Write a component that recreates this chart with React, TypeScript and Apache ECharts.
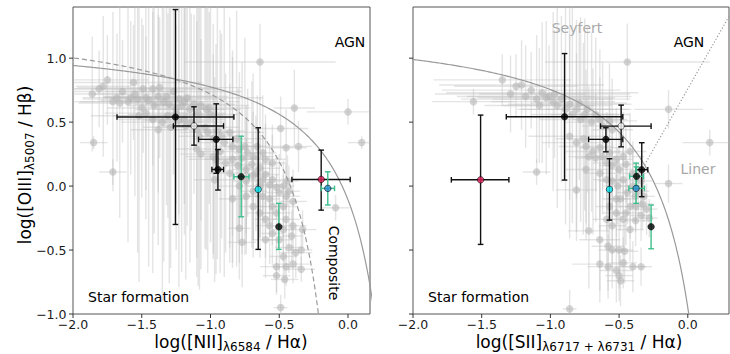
import React, { useEffect, useRef } from "react";
import * as echarts from "echarts";

// ---------- data ----------
const X_TICKS = [-2, -1.5, -1, -0.5, 0];
const Y_TICKS = [-1, -0.5, 0, 0.5, 1];
const NII_X_RANGE = [-2, 0.16];
const SII_X_RANGE = [-2, 0.3];
const Y_RANGE = [-1, 1.4];

// demarcation lines: y = a / (x - b) + c
const KAUFFMANN03 = [0.61, 0.05, 1.3];
const KEWLEY01_NII = [0.61, 0.47, 1.19];
const KEWLEY01_SII = [0.72, 0.32, 1.3];
// Seyfert / LINER line: y = m x + q
const SEYFERT_LINER = [1.89, 0.76];

// background sample [x, y, xerr, yerr]
const niiSample = [
  [-1.86, 0.72, 0.25, 0.45], [-1.81, 0.76, 0.35, 0.3], [-1.78, 0.78, 0.2, 0.55], [-1.75, 0.83, 0.3, 0.35],
  [-1.71, 0.66, 0.4, 0.7], [-1.68, 0.69, 0.25, 0.5], [-1.66, 0.65, 0.3, 0.9], [-1.64, 0.74, 0.45, 0.4],
  [-1.6, 0.66, 0.35, 1.1], [-1.58, 0.69, 0.2, 0.6], [-1.56, 0.81, 0.5, 0.45], [-1.55, 0.72, 0.3, 0.8],
  [-1.53, 0.68, 0.4, 1.2], [-1.5, 0.61, 0.25, 0.7], [-1.49, 0.76, 0.55, 0.5], [-1.47, 0.69, 0.3, 0.95],
  [-1.45, 0.67, 0.35, 1.3], [-1.42, 0.76, 0.45, 0.6], [-1.41, 0.63, 0.2, 1.0], [-1.38, 0.7, 0.4, 0.75],
  [-1.37, 0.77, 0.6, 0.55], [-1.34, 0.66, 0.3, 1.25], [-1.32, 0.7, 0.45, 0.85], [-1.3, 0.64, 0.25, 1.4],
  [-1.27, 0.74, 0.5, 0.65], [-1.25, 0.6, 0.3, 1.1], [-1.23, 0.68, 0.35, 0.9], [-1.21, 0.63, 0.2, 1.3],
  [-1.19, 0.66, 0.4, 0.8], [-1.17, 0.69, 0.55, 1.0], [-1.15, 0.6, 0.25, 1.2], [-1.12, 0.64, 0.3, 0.7],
  [-1.09, 0.57, 0.2, 1.35], [-1.07, 0.63, 0.35, 0.9], [-1.03, 0.6, 0.25, 1.1], [-1.01, 0.61, 0.3, 0.75],
  [-1.0, 0.56, 0.2, 1.0],
  [-1.52, 0.55, 0.35, 1.3], [-1.47, 0.57, 0.3, 0.6], [-1.42, 0.52, 0.25, 1.2], [-1.38, 0.44, 0.2, 0.9],
  [-1.35, 0.5, 0.3, 1.4], [-1.31, 0.55, 0.4, 0.8], [-1.29, 0.46, 0.2, 1.1], [-1.25, 0.56, 0.35, 0.7],
  [-1.23, 0.51, 0.25, 1.3], [-1.19, 0.52, 0.3, 0.9], [-1.18, 0.47, 0.2, 1.2], [-1.14, 0.5, 0.25, 0.85],
  [-1.1, 0.44, 0.2, 1.0], [-1.08, 0.39, 0.15, 1.2], [-1.04, 0.46, 0.25, 0.95], [-1.02, 0.42, 0.2, 1.1],
  [-0.98, 0.37, 0.15, 0.9], [-0.95, 0.43, 0.2, 1.0], [-0.92, 0.39, 0.15, 0.8], [-0.9, 0.34, 0.2, 1.05],
  [-0.86, 0.42, 0.25, 0.9], [-0.84, 0.31, 0.15, 0.7], [-0.81, 0.37, 0.2, 1.0], [-0.79, 0.29, 0.1, 0.6],
  [-0.75, 0.31, 0.15, 0.85], [-0.73, 0.26, 0.1, 0.5], [-0.69, 0.23, 0.15, 0.65], [-0.66, 0.31, 0.2, 0.4],
  [-0.62, 0.26, 0.1, 0.45], [-0.6, 0.21, 0.15, 0.35], [-0.55, 0.18, 0.1, 0.3], [-0.49, 0.45, 0.2, 0.25],
  [-0.45, 0.3, 0.15, 0.3], [-0.36, 0.31, 0.1, 0.2], [-0.39, 0.61, 0.15, 0.3],
  [-0.98, 0.23, 0.2, 0.8], [-0.93, 0.27, 0.15, 0.95], [-0.89, 0.18, 0.1, 0.7], [-0.84, 0.21, 0.2, 0.85],
  [-0.8, 0.16, 0.1, 0.6], [-0.77, 0.22, 0.15, 0.75], [-0.74, 0.13, 0.1, 0.5], [-0.7, 0.17, 0.15, 0.65],
  [-0.67, 0.1, 0.1, 0.45], [-0.64, 0.14, 0.15, 0.55], [-0.62, 0.05, 0.1, 0.35], [-0.6, 0.09, 0.1, 0.4],
  [-0.57, 0.01, 0.1, 0.3], [-0.55, 0.05, 0.1, 0.35], [-0.52, -0.01, 0.08, 0.25], [-0.5, -0.05, 0.1, 0.3],
  [-0.47, 0.0, 0.08, 0.2], [-0.45, -0.08, 0.1, 0.25], [-0.43, -0.04, 0.08, 0.2], [-0.4, -0.12, 0.1, 0.25],
  [-0.79, 0.0, 0.15, 0.6], [-0.74, 0.04, 0.1, 0.5], [-0.69, -0.04, 0.1, 0.45], [-0.62, -0.08, 0.1, 0.35],
  [-0.57, -0.1, 0.08, 0.3], [-0.47, -0.16, 0.1, 0.25], [-0.44, 0.04, 0.08, 0.2], [-0.96, 0.21, 0.2, 0.9],
  [-0.86, 0.1, 0.15, 0.7], [-0.69, 0.08, 0.1, 0.5], [-0.64, 0.0, 0.1, 0.4], [-0.74, -0.08, 0.12, 0.45],
  [-0.55, -0.16, 0.1, 0.3],
  [-0.84, -0.1, 0.1, 0.5], [-0.79, -0.33, 0.08, 0.4], [-0.77, -0.44, 0.1, 0.35], [-0.69, -0.16, 0.1, 0.4],
  [-0.64, -0.21, 0.1, 0.35], [-0.6, -0.26, 0.08, 0.3], [-0.57, -0.31, 0.1, 0.3], [-0.55, -0.37, 0.08, 0.25],
  [-0.52, -0.21, 0.1, 0.3], [-0.5, -0.42, 0.1, 0.25], [-0.47, -0.34, 0.08, 0.25], [-0.45, -0.26, 0.1, 0.2],
  [-0.43, -0.48, 0.1, 0.2], [-0.41, -0.39, 0.08, 0.2], [-0.4, -0.31, 0.1, 0.2], [-0.38, -0.52, 0.12, 0.2],
  [-0.47, -0.55, 0.1, 0.2], [-0.52, -0.63, 0.12, 0.2], [-0.45, -0.63, 0.1, 0.15], [-0.4, -0.61, 0.12, 0.15],
  [-0.34, -0.5, 0.08, 0.15], [-0.33, -0.34, 0.1, 0.15], [-0.52, -0.7, 0.1, 0.15], [-0.46, -0.73, 0.1, 0.15],
  [-0.34, -0.65, 0.1, 0.1], [-0.49, -0.95, 0.05, 0.1], [-0.6, -0.42, 0.1, 0.3],
  [-1.85, 0.34, 0.1, 0.05], [-1.71, 0.11, 0.1, 0.1], [-0.64, 0.97, 0.55, 0.3], [0.0, 0.58, 0.3, 0.1],
  [0.1, 0.34, 0.1, 0.05], [-0.09, -0.17, 0.1, 0.1], [-1.1, 0.29, 0.15, 1.0], [-1.07, 0.25, 0.15, 0.9],
  [-0.97, 0.05, 0.15, 0.8],
];

const siiSample = [
  [-1.56, 0.66, 0.3, 0.1], [-1.35, 0.83, 0.5, 0.2], [-1.29, 0.72, 0.55, 0.3], [-1.25, 0.78, 0.45, 0.25],
  [-1.21, 0.79, 0.6, 0.35], [-1.18, 0.7, 0.5, 0.4], [-1.14, 0.75, 0.65, 0.3], [-1.1, 0.68, 0.55, 0.5],
  [-1.08, 0.63, 0.4, 0.45], [-1.06, 0.73, 0.7, 0.55], [-1.03, 0.69, 0.5, 0.6], [-1.01, 0.7, 0.6, 0.4],
  [-0.98, 0.66, 0.45, 0.7], [-0.97, 0.72, 0.55, 0.5], [-0.95, 0.63, 0.4, 0.8], [-0.92, 0.68, 0.5, 0.65],
  [-0.89, 0.6, 0.35, 0.9], [-0.86, 0.64, 0.45, 0.75], [-0.84, 0.56, 0.3, 0.85], [-0.81, 0.6, 0.4, 0.7],
  [-0.79, 0.65, 0.35, 0.6], [-0.78, 0.52, 0.3, 0.8], [-0.75, 0.56, 0.25, 0.75], [-0.73, 0.6, 0.3, 0.65],
  [-0.7, 0.5, 0.2, 0.7], [-0.67, 0.56, 0.25, 0.6], [-0.64, 0.52, 0.2, 0.55], [-0.62, 0.47, 0.15, 0.5],
  [-0.57, 0.51, 0.2, 0.45], [-0.55, 0.44, 0.15, 0.4],
  [-0.86, 0.39, 0.3, 0.8], [-0.81, 0.34, 0.25, 0.7], [-0.76, 0.37, 0.2, 0.75], [-0.74, 0.31, 0.2, 0.6],
  [-0.72, 0.23, 0.15, 0.55], [-0.69, 0.27, 0.2, 0.65], [-0.67, 0.22, 0.15, 0.5], [-0.64, 0.3, 0.15, 0.55],
  [-0.62, 0.23, 0.15, 0.45], [-0.59, 0.18, 0.1, 0.4], [-0.57, 0.26, 0.15, 0.45], [-0.55, 0.16, 0.1, 0.35],
  [-0.52, 0.21, 0.12, 0.4], [-0.5, 0.13, 0.1, 0.3], [-0.47, 0.23, 0.15, 0.35], [-0.45, 0.17, 0.1, 0.3],
  [-0.42, 0.27, 0.12, 0.3], [-0.4, 0.1, 0.1, 0.25], [-0.74, 0.13, 0.15, 0.55], [-0.64, 0.1, 0.12, 0.45],
  [-0.59, 0.05, 0.1, 0.4], [-0.55, 0.04, 0.1, 0.35], [-0.51, 0.0, 0.1, 0.3], [-0.47, 0.05, 0.1, 0.3],
  [-0.44, -0.05, 0.08, 0.25], [-0.4, 0.0, 0.08, 0.25], [-0.36, -0.04, 0.08, 0.2], [-0.34, 0.04, 0.08, 0.2],
  [-0.32, -0.08, 0.08, 0.2], [-0.33, -0.14, 0.08, 0.2], [-0.3, -0.18, 0.08, 0.2], [-0.38, -0.16, 0.08, 0.2],
  [-0.42, -0.16, 0.08, 0.25], [-0.45, -0.21, 0.1, 0.25], [-0.52, -0.1, 0.1, 0.3], [-0.57, -0.16, 0.1, 0.35],
  [-0.59, -0.26, 0.1, 0.4], [-0.55, -0.31, 0.1, 0.35], [-0.47, -0.26, 0.1, 0.25], [-0.42, -0.34, 0.1, 0.25],
  [-0.38, -0.27, 0.08, 0.2], [-0.34, -0.23, 0.08, 0.2], [-0.28, -0.25, 0.06, 0.15], [-0.49, -0.1, 0.1, 0.25],
  [-0.52, -0.21, 0.1, 0.3], [-0.38, -0.08, 0.08, 0.2],
  [-1.1, 0.11, 0.1, 0.1], [-0.81, -0.03, 0.15, 0.4], [-0.72, -0.35, 0.15, 0.45], [-0.64, -0.42, 0.15, 0.4],
  [-0.58, -0.47, 0.12, 0.35], [-0.55, -0.5, 0.1, 0.3], [-0.5, -0.5, 0.1, 0.3], [-0.46, -0.51, 0.1, 0.25],
  [-0.64, -0.61, 0.2, 0.3], [-0.58, -0.63, 0.15, 0.25], [-0.52, -0.66, 0.12, 0.25], [-0.47, -0.6, 0.1, 0.2],
  [-0.4, -0.63, 0.1, 0.2], [-0.34, -0.63, 0.08, 0.15], [-0.5, -0.7, 0.1, 0.2], [-0.49, -0.74, 0.1, 0.2],
  [-0.86, -0.96, 0.05, 0.15], [-0.44, 0.97, 0.6, 0.3], [-0.14, 0.6, 0.25, 0.15], [0.16, 0.34, 0.2, 0.1],
  [-0.14, 0.02, 0.1, 0.15],
];

// highlighted objects [x, y, xlo, xhi, ylo, yhi]
const niiObjects = [
  [-1.255, 0.54, -1.68, -0.83, -0.3, 1.38],
  [-1.12, 0.47, -1.27, -0.905, 0.32, 0.62],
  [-0.958, 0.365, -1.087, -0.837, 0.1, 0.643],
  [-0.946, 0.13, -0.99, -0.905, -0.031, 0.286],
  [-0.777, 0.073, -0.83, -0.72, -0.24, 0.39],
  [-0.653, -0.026, -0.653, -0.653, -0.495, 0.456],
  [-0.503, -0.318, -0.503, -0.503, -0.495, -0.135],
  [-0.195, 0.052, -0.408, 0.016, -0.188, 0.281],
  [-0.147, -0.018, -0.195, -0.098, -0.148, 0.112],
];
const siiObjects = [
  [-0.897, 0.542, -1.321, -0.473, 0.047, 1.036],
  [-0.485, 0.469, -0.635, -0.267, 0.307, 0.633],
  [-0.596, 0.365, -0.722, -0.473, 0.268, 0.456],
  [-0.335, 0.128, -0.376, -0.291, -0.083, 0.339],
  [-0.373, 0.076, -0.424, -0.322, 0.0, 0.15],
  [-0.57, -0.026, -0.57, -0.57, -0.266, 0.214],
  [-0.267, -0.318, -0.267, -0.267, -0.49, -0.148],
  [-1.508, 0.049, -1.721, -1.302, -0.456, 0.555],
  [-0.376, -0.018, -0.429, -0.315, -0.135, 0.18],
];
const niiObjectFill = ["black", "white", "black", "black", "black", "cyan", "black", "red", "blue"];
const niiObjectErr = ["black", "black", "black", "black", "green", "black", "green", "black", "green"];
const siiObjectFill = ["black", "white", "black", "black", "black", "cyan", "black", "red", "blue"];
const siiObjectErr = ["black", "black", "black", "black", "green", "black", "green", "black", "green"];

// ---------- styles ----------
const FILL: Record<string, string> = {
  black: "#000000",
  white: "#ffffff",
  cyan: "#00e5f2",
  red: "#e0205a",
  blue: "#2a8bd0",
};
const ERR: Record<string, string> = { black: "#111111", green: "#3dbe8c" };
const FONT = "DejaVu Sans";
const TICK_LEN = 4;

function curve(coef: number[], xmin: number) {
  const [a, b, c] = coef;
  const pts: number[][] = [];
  for (let x = xmin; x < b; x += 0.01) {
    const y = a / (x - b) + c;
    if (y < -1.1) break;
    pts.push([x, y]);
  }
  pts.push([b + a / (-1.1 - c), -1.1]);
  return pts;
}

function linerLine(xmax: number) {
  const [m, q] = SEYFERT_LINER;
  const [a, b, c] = KEWLEY01_SII;
  const A = m;
  const B = q - c - m * b;
  const C = -(q - c) * b - a;
  const x0 = (-B - Math.sqrt(B * B - 4 * A * C)) / (2 * A);
  return [
    [x0, m * x0 + q],
    [xmax, m * xmax + q],
  ];
}

const errRender =
  (colors: string[] | string, lw: number, cap: number) => (params: any, api: any) => {
    const cs = params.coordSys;
    const x0 = cs.x,
      x1 = cs.x + cs.width,
      y0 = cs.y,
      y1 = cs.y + cs.height;
    const clx = (v: number) => Math.max(x0, Math.min(x1, v));
    const cly = (v: number) => Math.max(y0, Math.min(y1, v));
    const c = api.coord([api.value(0), api.value(1)]);
    const l = api.coord([api.value(2), api.value(1)]);
    const r = api.coord([api.value(3), api.value(1)]);
    const b = api.coord([api.value(0), api.value(4)]);
    const t = api.coord([api.value(0), api.value(5)]);
    const color = Array.isArray(colors) ? colors[params.dataIndex] : colors;
    const style = { stroke: color, lineWidth: lw, fill: null };
    const ch: any[] = [];
    if (r[0] - l[0] > 0.5) {
      ch.push({ type: "line", shape: { x1: clx(l[0]), y1: c[1], x2: clx(r[0]), y2: c[1] }, style });
      if (cap > 0) {
        if (l[0] >= x0) ch.push({ type: "line", shape: { x1: l[0], y1: c[1] - cap, x2: l[0], y2: c[1] + cap }, style });
        if (r[0] <= x1) ch.push({ type: "line", shape: { x1: r[0], y1: c[1] - cap, x2: r[0], y2: c[1] + cap }, style });
      }
    }
    if (b[1] - t[1] > 0.5) {
      ch.push({ type: "line", shape: { x1: c[0], y1: cly(t[1]), x2: c[0], y2: cly(b[1]) }, style });
      if (cap > 0) {
        if (t[1] >= y0) ch.push({ type: "line", shape: { x1: c[0] - cap, y1: t[1], x2: c[0] + cap, y2: t[1] }, style });
        if (b[1] <= y1) ch.push({ type: "line", shape: { x1: c[0] - cap, y1: b[1], x2: c[0] + cap, y2: b[1] }, style });
      }
    }
    return { type: "group", children: ch };
  };

const fmt = (v: number) => (v < 0 ? "\u2212" : "") + Math.abs(v).toFixed(1);

// outward tick marks + tick labels drawn through the axis scales
const tickRender = (dir: "x" | "y", withLabel: boolean) => (params: any, api: any) => {
  const v = dir === "x" ? api.value(0) : api.value(1);
  const p = api.coord([api.value(0), api.value(1)]);
  const ch: any[] = [];
  const tickStyle = { stroke: "#333", lineWidth: 1 };
  const labelStyle = { fill: "#1a1a1a", font: `12.5px ${FONT}` };
  if (dir === "x") {
    ch.push({ type: "line", shape: { x1: p[0], y1: p[1], x2: p[0], y2: p[1] + TICK_LEN }, style: tickStyle });
    if (withLabel)
      ch.push({
        type: "text",
        x: p[0],
        y: p[1] + 10.5,
        style: { ...labelStyle, text: fmt(v), textAlign: "center", align: "center", textVerticalAlign: "middle", verticalAlign: "middle" },
      });
  } else {
    ch.push({ type: "line", shape: { x1: p[0] - TICK_LEN, y1: p[1], x2: p[0], y2: p[1] }, style: tickStyle });
    if (withLabel)
      ch.push({
        type: "text",
        x: p[0] - 6.5,
        y: p[1],
        style: { ...labelStyle, text: fmt(v), textAlign: "right", align: "right", textVerticalAlign: "middle", verticalAlign: "middle" },
      });
  }
  return { type: "group", children: ch };
};

function xAxisCfg(gridIndex: number, range: number[]) {
  return { type: "value", gridIndex, show: false, min: range[0], max: range[1] };
}
function yAxisCfg(gridIndex: number) {
  return { type: "value", gridIndex, show: false, min: Y_RANGE[0], max: Y_RANGE[1] };
}

function panelSeries(idx: number, xr: number[], yLabels: boolean, sample: number[][], objs: number[][], fill: string[], err: string[], curves: any[]) {
  const greyErr = sample.map((p) => [p[0], p[1], p[0] - p[2], p[0] + p[2], p[1] - p[3], p[1] + p[3]]);
  const list: any[] = [
    {
      type: "custom",
      xAxisIndex: idx,
      yAxisIndex: idx,
      renderItem: errRender("rgba(190,190,190,0.42)", 1.4, 0),
      data: greyErr,
      encode: { x: 0, y: 1 },
      z: 1,
      silent: true,
    },
    {
      type: "scatter",
      xAxisIndex: idx,
      yAxisIndex: idx,
      data: sample.map((p) => [p[0], p[1]]),
      symbolSize: 7.5,
      itemStyle: { color: "rgba(180,180,180,0.72)" },
      z: 2,
      silent: true,
    },
    ...curves.map((cv) => ({
      type: "line",
      xAxisIndex: idx,
      yAxisIndex: idx,
      data: cv.data,
      showSymbol: false,
      lineStyle: { color: "#9a9a9a", width: 1.2, type: cv.dash },
      z: 3,
      silent: true,
    })),
    {
      type: "custom",
      xAxisIndex: idx,
      yAxisIndex: idx,
      renderItem: errRender(err.map((k) => ERR[k]), 1.4, 2.8),
      data: objs,
      encode: { x: 0, y: 1 },
      z: 4,
      silent: true,
    },
    {
      type: "scatter",
      xAxisIndex: idx,
      yAxisIndex: idx,
      data: objs.map((p, i) => ({
        value: [p[0], p[1]],
        itemStyle: { color: FILL[fill[i]], borderColor: "#000", borderWidth: 0.7 },
      })),
      symbolSize: 6.5,
      z: 5,
      silent: true,
    },
    {
      type: "custom",
      xAxisIndex: idx,
      yAxisIndex: idx,
      renderItem: tickRender("x", true),
      data: X_TICKS.map((v) => [v, Y_RANGE[0]]),
      encode: { x: 0, y: 1 },
      clip: false,
      z: 6,
      silent: true,
    },
    {
      type: "custom",
      xAxisIndex: idx,
      yAxisIndex: idx,
      renderItem: tickRender("y", yLabels),
      data: Y_TICKS.map((v) => [xr[0], v]),
      encode: { x: 0, y: 1 },
      clip: false,
      z: 6,
      silent: true,
    },
  ];
  return list;
}

function richLabel(main1: string, sub: string, main2: string) {
  return {
    text: `{m|${main1}}{s|${sub}}{m|${main2}}`,
    rich: {
      m: { fontSize: 17, fontFamily: FONT, lineHeight: 22, fill: "#000", color: "#000" },
      s: { fontSize: 12, fontFamily: FONT, lineHeight: 10, verticalAlign: "bottom", fill: "#000", color: "#000" },
    },
  };
}

function txt(x: number, y: number, text: string, color: string, align: string, rotation = 0) {
  return {
    type: "text",
    x,
    y,
    rotation,
    silent: true,
    style: {
      text,
      fill: color,
      font: `14px ${FONT}`,
      textAlign: align,
      align,
      textVerticalAlign: "middle",
      verticalAlign: "middle",
    },
  };
}

export default function App() {
  const ref = useRef<HTMLDivElement>(null);
  useEffect(() => {
    if (!ref.current) return;
    const chart = echarts.init(ref.current, undefined, { renderer: "svg" });
    const grids = [
      { left: 73, top: 7, width: 297, height: 307 },
      { left: 413, top: 7, width: 316, height: 307 },
    ].map((g) => ({ ...g, show: true, borderColor: "#555", borderWidth: 1, backgroundColor: "transparent" }));

    const option: any = {
      animation: false,
      backgroundColor: "#fff",
      grid: grids,
      xAxis: [xAxisCfg(0, NII_X_RANGE), xAxisCfg(1, SII_X_RANGE)],
      yAxis: [yAxisCfg(0), yAxisCfg(1)],
      series: [
        ...panelSeries(0, NII_X_RANGE, true, niiSample, niiObjects, niiObjectFill, niiObjectErr, [
          { data: curve(KEWLEY01_NII, -2.05), dash: "solid" },
          { data: curve(KAUFFMANN03, -2.05), dash: [5, 3] },
        ]),
        ...panelSeries(1, SII_X_RANGE, false, siiSample, siiObjects, siiObjectFill, siiObjectErr, [
          { data: curve(KEWLEY01_SII, -2.05), dash: "solid" },
          { data: linerLine(SII_X_RANGE[1]), dash: [1.2, 2] },
        ]),
      ],
      graphic: [
        txt(350, 42, "AGN", "#000", "center"),
        txt(88, 297, "Star formation", "#000", "left"),
        txt(334, 263, "Composite", "#000", "center", -Math.PI / 2),
        txt(577, 28, "Seyfert", "#a8a8a8", "center"),
        txt(689, 42, "AGN", "#000", "center"),
        txt(698, 169, "Liner", "#a8a8a8", "center"),
        txt(428, 297, "Star formation", "#000", "left"),
        {
          type: "text",
          x: 231,
          y: 342,
          silent: true,
          style: { ...richLabel("log([NII]", "\u03bb6584", " / H\u03b1)"), align: "center", verticalAlign: "middle", textAlign: "center", textVerticalAlign: "middle" },
        },
        {
          type: "text",
          x: 579,
          y: 342,
          silent: true,
          style: { ...richLabel("log([SII]", "\u03bb6717 + \u03bb6731", " / H\u03b1)"), align: "center", verticalAlign: "middle", textAlign: "center", textVerticalAlign: "middle" },
        },
        {
          type: "text",
          x: 25,
          y: 165,
          rotation: Math.PI / 2,
          silent: true,
          style: { ...richLabel("log([OIII]", "\u03bb5007", " / H\u03b2)"), align: "center", verticalAlign: "middle", textAlign: "center", textVerticalAlign: "middle" },
        },
      ],
    };
    chart.setOption(option);
    return () => chart.dispose();
  }, []);
  return (
    <div
      ref={ref}
      style={{ position: "absolute", left: 0, top: 0, width: 730, height: 354, background: "#fff" }}
    />
  );
}
